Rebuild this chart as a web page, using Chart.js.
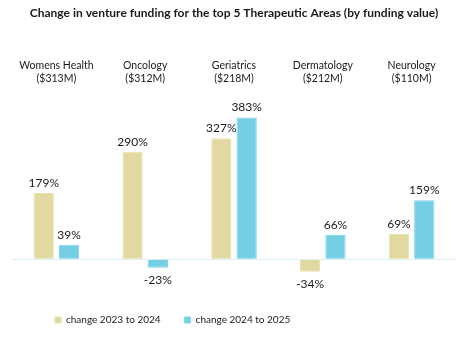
<!DOCTYPE html>
<html>
<head>
<meta charset="utf-8">
<script src="https://cdn.jsdelivr.net/npm/chart.js@4"></script>
<style>
  html, body { margin: 0; padding: 0; background: #ffffff; }
  #wrap { width: 468px; height: 338px; }
</style>
</head>
<body>
<div id="wrap"><canvas id="c" width="468" height="338"></canvas></div>
<script>
// Therapeutic areas, with total funding shown beneath each name
const areas = ['Womens Health', 'Oncology', 'Geriatrics', 'Dermatology', 'Neurology'];
const fundingTotals = ['($313M)', '($312M)', '($218M)', '($212M)', '($110M)'];

// Percentage change in venture funding
const change2023to2024 = [179, 290, 327, -34, 69];
const change2024to2025 = [39, -23, 383, 66, 159];

const seriesNames = ['change 2023 to 2024', 'change 2024 to 2025'];
const FONT = 'Lato, "Open Sans", sans-serif';

// Writes each bar's value above (or below, for negatives) the bar
const valueLabels = {
  id: 'valueLabels',
  afterDatasetsDraw(chart) {
    const ctx = chart.ctx;
    ctx.save();
    ctx.font = '12px ' + FONT;
    ctx.fillStyle = '#1a1a1a';
    ctx.textAlign = 'center';
    chart.data.datasets.forEach((ds, i) => {
      chart.getDatasetMeta(i).data.forEach((bar, j) => {
        const v = ds.data[j];
        if (v >= 0) {
          ctx.textBaseline = 'bottom';
          ctx.fillText(v + '%', bar.x, bar.y - 4);
        } else {
          ctx.textBaseline = 'top';
          ctx.fillText(v + '%', bar.x, bar.y + 6);
        }
      });
    });
    ctx.restore();
  }
};

// Nudges the bottom legend to the right of its start-aligned position
const legendOffset = {
  id: 'legendOffset',
  afterLayout(chart) {
    const lg = chart.legend;
    if (lg) { lg.left += 19; lg.right += 19; lg.top += 1; lg.bottom += 1; }
  }
};

new Chart(document.getElementById('c'), {
  type: 'bar',
  data: {
    labels: areas.map((a, i) => [a, fundingTotals[i]]),
    datasets: [
      { label: seriesNames[0], data: change2023to2024, backgroundColor: '#e2d9a0', borderColor: '#e8e0ae', borderWidth: 1 },
      { label: seriesNames[1], data: change2024to2025, backgroundColor: '#74cfe5', borderColor: '#7fd4e8', borderWidth: 1 }
    ]
  },
  options: {
    responsive: false,
    animation: false,
    devicePixelRatio: 1,
    layout: { padding: { left: 12, right: 12, top: 4, bottom: 4 } },
    datasets: { bar: { categoryPercentage: 0.57, barPercentage: 0.8 } },
    plugins: {
      title: {
        display: true,
        text: 'Change in venture funding for the top 5 Therapeutic Areas (by funding value)',
        color: '#1a1a1a',
        font: { family: FONT, size: 12, weight: 'bold' },
        padding: { top: 2, bottom: 39 }
      },
      legend: {
        position: 'bottom',
        align: 'start',
        labels: {
          color: '#1a1a1a',
          font: { family: FONT, size: 10 },
          boxWidth: 6, boxHeight: 6,
          padding: 24
        }
      },
      tooltip: { enabled: false }
    },
    scales: {
      x: {
        position: 'top',
        grid: { display: false },
        border: { display: false },
        ticks: { color: '#1a1a1a', font: { family: FONT, size: 10.5 }, padding: 0 }
      },
      y: {
        min: -83,
        max: 450,
        ticks: { display: false, stepSize: 83 },
        border: { display: false },
        grid: {
          drawTicks: false,
          color: c => c.tick.value === 0 ? '#dbeef7' : 'rgba(0,0,0,0)',
          lineWidth: 1
        }
      }
    }
  },
  plugins: [valueLabels, legendOffset]
});
</script>
</body>
</html>
